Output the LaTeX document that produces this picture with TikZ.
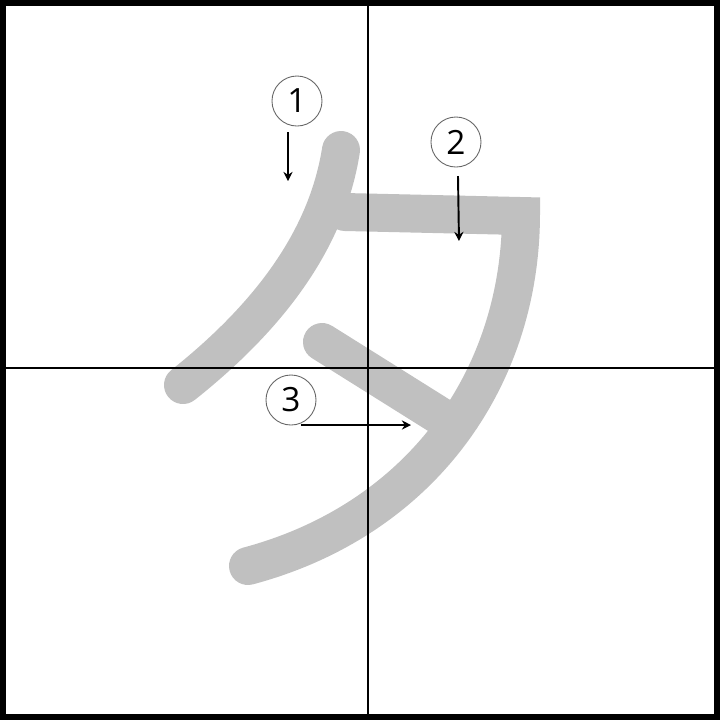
\documentclass[tikz,border=0pt]{standalone}
\usepackage{fontspec}
\setmainfont{Open Sans}
\usetikzlibrary{arrows.meta}
\definecolor{brushgray}{RGB}{192,192,192}

\begin{document}
\begin{tikzpicture}[x=0.01cm,y=-0.01cm,
  brush/.style={draw=brushgray,line width=10.8pt,line cap=round,line join=miter},
  num/.style={circle,draw=black!60,line width=0.25pt,minimum size=0.5cm,inner sep=0pt,font=\fontsize{9.5}{10}\selectfont},
  guide/.style={line width=0.3pt},
  order/.style={line width=0.55pt,-{Stealth[length=2.6pt,width=2.6pt]}}]
\useasboundingbox (0,0) rectangle (720,720);
\fill[white] (0,0) rectangle (720,720);

% strokes
\draw[brush] (341,150) .. controls (330,220) and (290,300) .. (183,385);
\draw[brush] (345,212) -- (521,216) .. controls (520,380) and (420,520) .. (248,566);
\draw[brush] (322,342) -- (448,421);

% grid
\draw[guide] (368,6) -- (368,714);
\draw[guide] (6,368) -- (714,368);
\draw[line width=1.7pt] (3,3) rectangle (717,717);

\node[num] (1) at (297,101) {1};
\node[num] (2) at (456,142) {2};
\node[num] (3) at (291,400) {3};

\coordinate (1a) at (288,132);
\coordinate (1b) at (288,181);
\coordinate (2a) at (458,176);
\coordinate (2b) at (459,241);
\coordinate (3a) at (301,425);
\coordinate (3b) at (411,425);

\draw[order] (1a) to (1b);
\draw[order] (2a) to (2b);
\draw[order] (3a) to (3b);
\end{tikzpicture}
\end{document}
